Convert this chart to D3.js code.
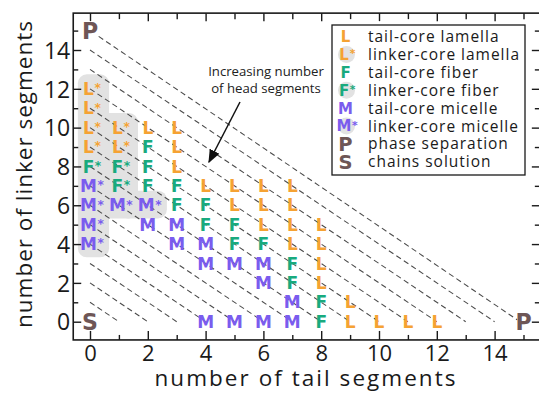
<!DOCTYPE html>
<html>
<head>
<meta charset="utf-8">
<script src="https://cdn.jsdelivr.net/npm/d3@7"></script>
<style>
html,body{margin:0;padding:0;background:#fff;}
svg{display:block;}
</style>
</head>
<body>
<svg id="chart" width="539" height="393"></svg>
<script>
// ---------- data ----------
const tailSeg   = [0, 0, 0,1,2,3, 0,1,2,3, 0,1,2,3, 0,1,2,3,4,5,6,7, 0,1,2,3,4,5,6,7, 0,2,3,4,5,6,7,8, 0,3,4,5,6,7,8, 4,5,6,7,8, 6,7,8, 7,8,9, 0,4,5,6,7,8,9,10,11,12,15, 0];
const linkerSeg = [12,11, 10,10,10,10, 9,9,9,9, 8,8,8,8, 7,7,7,7,7,7,7,7, 6,6,6,6,6,6,6,6, 5,5,5,5,5,5,5,5, 4,4,4,4,4,4,4, 3,3,3,3,3, 2,2,2, 1,1,1, 0,0,0,0,0,0,0,0,0,0,0, 15];
const phase     = ["L*","L*", "L*","L*","L","L", "L*","L*","F","L", "F*","F*","F","L",
                   "M*","F*","F","F","L","L","L","L",
                   "M*","M*","M*","F","F","L","L","L",
                   "M*","M","M","F","F","L","L","L",
                   "M*","M","M","F","F","L","L",
                   "M","M","M","F","L",
                   "M","F","L",
                   "M","F","L",
                   "S","M","M","M","M","F","L","L","L","L","P",
                   "P"];
const headLines = [1,2,3,4,5,6,7,8,9,10,11,12,13,14,15]; // tail + linker = const
const xMajorTicks = [0,2,4,6,8,10,12,14];
const xMinorTicks = [1,3,5,7,9,11,13,15];
const yMajorTicks = [0,2,4,6,8,10,12,14];
const yMinorTicks = [1,3,5,7,9,11,13,15];
const legendKeys   = ["L","L*","F","F*","M","M*","P","S"];
const legendLabels = ["tail-core lamella","linker-core lamella","tail-core fiber","linker-core fiber",
                      "tail-core micelle","linker-core micelle","phase separation","chains solution"];
const annotationLines = ["Increasing number","of head segments"];
const xTitle = "number of tail segments";
const yTitle = "number of linker segments";

// ---------- styles ----------
const colors = {L:"#F5A233", F:"#19AA7E", M:"#7A5CEE", P:"#6E5656", S:"#6E5656"};
const FONT = "'Open Sans', 'DejaVu Sans', sans-serif";
const SYMFONT = "'DejaVu Sans', sans-serif";

const svg = d3.select("#chart");
const x = d3.scaleLinear().domain([0,15]).range([90, 523.5]);
const y = d3.scaleLinear().domain([0,14]).range([321.7, 50]);
const frame = {x0: x(-0.58), x1: x(15.6), y0: y(15.9), y1: y(-0.94)};

// widen a text with letter-spacing so that its rendered width matches a target width
function fitSpacing(sel, target){
  const n = sel.node();
  const w = n.getComputedTextLength();
  const chars = sel.text().length;
  sel.attr("letter-spacing", ((target - w) / chars).toFixed(3));
  return sel;
}

// ---------- gray shading behind linker-core (starred) phases ----------
const pts = tailSeg.map((t,i)=>({x:t, y:linkerSeg[i], p:phase[i]}));
const starred = pts.filter(d=>d.p.endsWith("*"));
const cols = d3.groups(starred, d=>d.x).sort((a,b)=>a[0]-b[0]);
const gShade = svg.append("g");
cols.forEach(([c, arr], i)=>{
  const ymin = d3.min(arr, d=>d.y) - 0.68, ymax = d3.max(arr, d=>d.y) + 0.75;
  const xl = i===0 ? c-0.42 : c-1;
  const xr = c+0.66;
  gShade.append("rect")
    .attr("x", x(xl)).attr("width", x(xr)-x(xl))
    .attr("y", y(ymax)).attr("height", y(ymin)-y(ymax))
    .attr("rx", 9).attr("ry", 9)
    .attr("fill", "#e2e2e2");
});

// ---------- dashed diagonal lines ----------
svg.append("g").selectAll("line").data(headLines).join("line")
  .attr("x1", k => x(k===15 ? 0.3 : 0))
  .attr("y1", k => y(k===15 ? 14.7 : k))
  .attr("x2", k => x(k===15 ? 14.78 : k))
  .attr("y2", k => y(k===15 ? 0.1 : 0))
  .attr("stroke", "#4a4a4a").attr("stroke-width", 1.05)
  .attr("stroke-dasharray", "5.5,3.5");

// ---------- axes (inward ticks, frame) ----------
svg.append("rect")
  .attr("x", frame.x0).attr("y", frame.y0)
  .attr("width", frame.x1-frame.x0).attr("height", frame.y1-frame.y0)
  .attr("fill", "none").attr("stroke", "#1a1a1a").attr("stroke-width", 1.6);

function tickAxis(axisFn, scale, vals, size, transform, fmt){
  const ax = axisFn(scale).tickValues(vals).tickSize(size).tickSizeOuter(0).tickPadding(4);
  if (!fmt) ax.tickFormat("");
  const g = svg.append("g").attr("transform", transform).call(ax);
  g.select(".domain").remove();
  g.selectAll(".tick line").attr("stroke", "#1a1a1a").attr("stroke-width", 1.4);
  return g;
}
// bottom
const gxb = tickAxis(d3.axisBottom, x, xMajorTicks, -9, `translate(0,${frame.y1})`, true);
gxb.selectAll("text").attr("font-family", FONT).attr("font-size", 22).attr("fill", "#1a1a1a")
  .attr("y", 5).attr("dy", "0.71em");
tickAxis(d3.axisBottom, x, xMinorTicks, -5, `translate(0,${frame.y1})`, false);
// top
tickAxis(d3.axisTop, x, xMajorTicks, -8, `translate(0,${frame.y0})`, false);
tickAxis(d3.axisTop, x, xMinorTicks, -6, `translate(0,${frame.y0})`, false);
// left
const gyl = tickAxis(d3.axisLeft, y, yMajorTicks, -8, `translate(${frame.x0},0)`, true);
gyl.selectAll("text").attr("font-family", FONT).attr("font-size", 23).attr("fill", "#1a1a1a")
  .attr("x", -3).attr("dy", "0.36em");
tickAxis(d3.axisLeft, y, yMinorTicks, -5, `translate(${frame.x0},0)`, false);
// right
tickAxis(d3.axisRight, y, yMajorTicks, -9, `translate(${frame.x1},0)`, false);
tickAxis(d3.axisRight, y, yMinorTicks, -6, `translate(${frame.x1},0)`, false);

// ---------- axis titles ----------
fitSpacing(svg.append("text").text(xTitle)
  .attr("x", 306).attr("y", 386).attr("text-anchor", "middle")
  .attr("font-family", FONT).attr("font-size", 22.5).attr("fill", "#1a1a1a"), 303);
fitSpacing(svg.append("text").text(yTitle)
  .attr("transform", "translate(32,174) rotate(-90)").attr("text-anchor", "middle")
  .attr("font-family", FONT).attr("font-size", 22.5).attr("fill", "#1a1a1a"), 308);

// ---------- phase symbols ----------
function drawSymbol(g, p, cx, cy, size){
  const base = p[0];
  const big = (base==="P"||base==="S");
  const fs = big ? size*1.3 : size;
  const t = g.append("text").text(base)
    .attr("x", cx).attr("y", cy).attr("dy", "0.36em")
    .attr("text-anchor", "middle")
    .attr("font-family", SYMFONT).attr("font-weight", "bold")
    .attr("font-size", fs).attr("fill", colors[base]);
  if (p.endsWith("*")) {
    const bb = t.node().getBBox();
    g.append("text").text("*")
      .attr("x", bb.x + bb.width + 0.5).attr("y", cy + fs*0.2)
      .attr("font-family", SYMFONT).attr("font-weight", "bold")
      .attr("font-size", fs*0.72).attr("fill", colors[base]);
  }
}
const gPts = svg.append("g");
pts.forEach(d => drawSymbol(gPts, d.p, x(d.x) - (d.p.endsWith("*") ? 1.5 : 0), y(d.y), 17));

// ---------- annotation ----------
const ann = svg.append("g");
annotationLines.forEach((s,i)=>{
  ann.append("text").text(s)
    .attr("x", 266).attr("y", 76 + i*17).attr("text-anchor", "middle")
    .attr("font-family", FONT).attr("font-size", 13.2).attr("fill", "#222");
});
svg.append("defs").append("marker")
  .attr("id","arrow").attr("viewBox","0 0 10 10").attr("refX",9).attr("refY",5)
  .attr("markerWidth",9).attr("markerHeight",9).attr("orient","auto-start-reverse")
  .append("path").attr("d","M0,1 L10,5 L0,9 Z").attr("fill","#111");
svg.append("line")
  .attr("x1", 240).attr("y1", 102).attr("x2", 209).attr("y2", 162)
  .attr("stroke", "#111").attr("stroke-width", 1.5).attr("marker-end","url(#arrow)");

// ---------- legend ----------
const leg = svg.append("g");
leg.append("rect").attr("x", 332).attr("y", 25).attr("width", 193).attr("height", 150)
  .attr("fill", "#fff").attr("stroke", "#1a1a1a").attr("stroke-width", 1.3);
const legTexts = [];
legendKeys.forEach((k,i)=>{
  const cy = 36.5 + i*17.9;
  if (k.endsWith("*")) {
    leg.append("circle").attr("cx", 346.5).attr("cy", cy).attr("r", 8.5).attr("fill", "#e2e2e2");
  }
  drawSymbol(leg, k, k.endsWith("*") ? 344 : 345.5, cy, 15);
  legTexts.push(leg.append("text").text(legendLabels[i])
    .attr("x", 368).attr("y", cy).attr("dy", "0.36em")
    .attr("font-family", FONT).attr("font-size", 15.5).attr("fill", "#1a1a1a"));
});
// common letter-spacing for the legend, set so the longest entry fits the box
const wRef = legTexts[1].node().getComputedTextLength();
const ls = (152 - wRef) / legendLabels[1].length;
legTexts.forEach(t => t.attr("letter-spacing", ls.toFixed(3)));
</script>
</body>
</html>
